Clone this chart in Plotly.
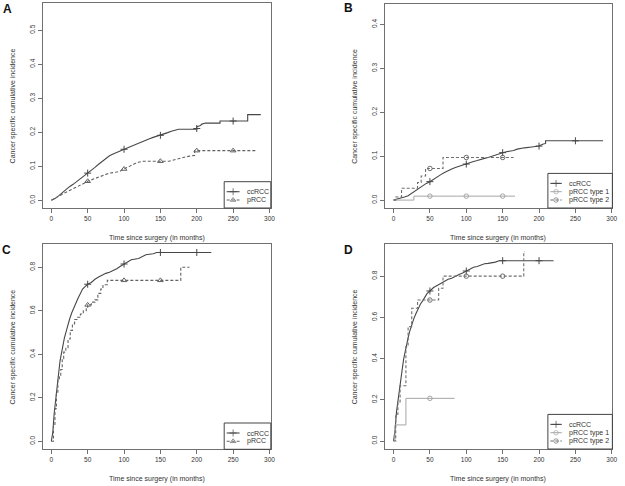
import plotly.graph_objects as go

# ---------------- data ----------------
# Panel A
a_cc_t = [0, 5, 10, 15, 20, 25, 30, 35, 40, 45, 50, 55, 60, 65, 70, 75, 80, 85, 90, 95, 100,
          105, 110, 115, 120, 125, 130, 135, 140, 145, 150, 155, 160, 165, 170, 175, 200, 200,
          205, 207, 212, 232, 232, 270, 270, 288]
a_cc_v = [0, 0.005, 0.013, 0.022, 0.033, 0.040, 0.047, 0.055, 0.063, 0.072, 0.080, 0.088, 0.097,
          0.106, 0.115, 0.124, 0.131, 0.136, 0.141, 0.146, 0.150, 0.154, 0.159, 0.163, 0.168,
          0.173, 0.177, 0.181, 0.185, 0.188, 0.191, 0.195, 0.199, 0.203, 0.207, 0.209, 0.209,
          0.216, 0.220, 0.224, 0.227, 0.227, 0.233, 0.233, 0.252, 0.252]
a_cc_mark_t = [50, 100, 150, 200, 250]
a_cc_mark_v = [0.080, 0.150, 0.191, 0.211, 0.233]

a_p_t = [0, 5, 10, 15, 20, 25, 30, 35, 40, 45, 50, 55, 60, 65, 70, 75, 80, 90, 95, 100, 105,
         110, 115, 120, 127, 162, 170, 180, 190, 197, 197, 283]
a_p_v = [0, 0.005, 0.012, 0.018, 0.023, 0.028, 0.033, 0.038, 0.043, 0.050, 0.056, 0.060, 0.064,
         0.067, 0.071, 0.075, 0.080, 0.083, 0.086, 0.092, 0.098, 0.104, 0.108, 0.112, 0.115,
         0.115, 0.120, 0.125, 0.130, 0.132, 0.146, 0.146]
a_p_mark_t = [50, 100, 150, 200, 250]
a_p_mark_v = [0.056, 0.092, 0.115, 0.146, 0.146]

# Panel B
b_cc_t = [0, 5, 10, 15, 20, 25, 30, 35, 40, 45, 50, 55, 60, 65, 70, 75, 80, 85, 90, 95, 100,
          105, 110, 115, 120, 125, 130, 135, 140, 145, 150, 155, 160, 165, 170, 175, 180, 190,
          200, 205, 209, 209, 288]
b_cc_v = [0, 0.002, 0.004, 0.007, 0.010, 0.016, 0.022, 0.028, 0.033, 0.038, 0.042, 0.048, 0.053,
          0.058, 0.063, 0.068, 0.071, 0.074, 0.077, 0.079, 0.082, 0.085, 0.088, 0.090, 0.093,
          0.095, 0.097, 0.100, 0.103, 0.106, 0.108, 0.110, 0.111, 0.113, 0.116, 0.118, 0.119,
          0.121, 0.123, 0.127, 0.129, 0.135, 0.135]
b_cc_mark_t = [50, 100, 150, 200, 250]
b_cc_mark_v = [0.042, 0.082, 0.108, 0.123, 0.135]

b_p1_t = [0, 28, 167]
b_p1_v = [0, 0.009, 0.009]
b_p1_mark_t = [50, 100, 150]
b_p1_mark_v = [0.009, 0.009, 0.009]

b_p2_t = [0, 3, 11, 33, 38, 44, 68, 165]
b_p2_v = [0, 0.007, 0.027, 0.040, 0.055, 0.072, 0.097, 0.097]
b_p2_mark_t = [50, 100, 150]
b_p2_mark_v = [0.072, 0.097, 0.097]

# Panel C
c_cc_t = [0, 2, 4, 6, 8, 10, 12, 14, 16, 18, 20, 22, 25, 28, 31, 34, 37, 40, 43, 46, 50, 55,
          60, 65, 70, 75, 80, 85, 90, 95, 100, 105, 110, 120, 125, 130, 140, 145, 220]
c_cc_v = [0, 0.04, 0.13, 0.20, 0.25, 0.31, 0.37, 0.41, 0.44, 0.475, 0.50, 0.53, 0.56, 0.59,
          0.615, 0.64, 0.66, 0.68, 0.70, 0.71, 0.722, 0.73, 0.745, 0.755, 0.765, 0.772, 0.777,
          0.785, 0.793, 0.805, 0.815, 0.825, 0.835, 0.84, 0.85, 0.858, 0.862, 0.868, 0.868]
c_cc_mark_t = [50, 100, 150, 200]
c_cc_mark_v = [0.722, 0.815, 0.868, 0.868]

c_p_t = [0, 3, 5, 7, 9, 11, 13, 15, 17, 20, 23, 26, 29, 32, 36, 40, 44, 48, 50, 55, 60, 64,
         68, 71, 77, 178, 190]
c_p_v = [0, 0.07, 0.15, 0.22, 0.28, 0.30, 0.33, 0.38, 0.41, 0.43, 0.47, 0.51, 0.54, 0.56,
         0.57, 0.585, 0.60, 0.615, 0.627, 0.64, 0.65, 0.68, 0.70, 0.72, 0.74, 0.80, 0.80]
c_p_mark_t = [50, 100, 150]
c_p_mark_v = [0.627, 0.74, 0.74]

# Panel D
d_cc_t = [0, 2, 4, 6, 8, 10, 12, 14, 16, 18, 20, 22, 25, 28, 31, 34, 37, 40, 43, 46, 50, 55,
          60, 65, 70, 75, 80, 85, 90, 95, 100, 105, 110, 115, 120, 125, 130, 140, 145, 220]
d_cc_v = [0, 0.05, 0.14, 0.20, 0.25, 0.30, 0.35, 0.40, 0.44, 0.47, 0.50, 0.53, 0.565, 0.595,
          0.62, 0.645, 0.665, 0.68, 0.70, 0.715, 0.728, 0.745, 0.755, 0.765, 0.778, 0.785, 0.79,
          0.80, 0.808, 0.815, 0.825, 0.835, 0.843, 0.847, 0.855, 0.86, 0.862, 0.868, 0.875, 0.875]
d_cc_mark_t = [50, 100, 150, 200]
d_cc_mark_v = [0.728, 0.825, 0.875, 0.875]

d_p1_t = [0, 2, 17, 84]
d_p1_v = [0, 0.078, 0.207, 0.207]
d_p1_mark_t = [50]
d_p1_mark_v = [0.207]

d_p2_t = [0, 3, 6, 9, 17, 20, 25, 33, 62, 68, 179, 180]
d_p2_v = [0, 0.13, 0.19, 0.268, 0.458, 0.555, 0.644, 0.684, 0.741, 0.80, 0.919, 0.919]
d_p2_mark_t = [50, 100, 150]
d_p2_mark_v = [0.684, 0.80, 0.80]

x_ticks = [0, 50, 100, 150, 200, 250, 300]
ticks_a = [0.0, 0.1, 0.2, 0.3, 0.4, 0.5]
ticks_b = [0.0, 0.1, 0.2, 0.3, 0.4]
ticks_cd = [0.0, 0.2, 0.4, 0.6, 0.8]
panel_labels = ["A", "B", "C", "D"]
legend_ab = ["ccRCC", "pRCC"]
legend_types = ["ccRCC", "pRCC type 1", "pRCC type 2"]
x_title = "Time since surgery (in months)"
y_title = "Cancer specific cumulative incidence"

# ---------------- styles ----------------
W, H = 625, 486
FONT = "Liberation Sans"
C_CC = "#474747"
C_P = "#626262"
C_P1 = "#a6a6a6"
C_P2 = "#6e6e6e"
DASH = "3px,2px"
S_CC = dict(color=C_CC, dash="solid", width=1.1, symbol="cross-thin", msize=5)
S_P = dict(color=C_P, dash=DASH, width=1.1, symbol="triangle-up-open", msize=5)
S_P1 = dict(color=C_P1, dash="solid", width=1, symbol="circle-open", msize=4.5)
S_P2 = dict(color=C_P2, dash=DASH, width=1.1, symbol="circle-open", msize=4.5)

fig = go.Figure()


def add_curve(t, v, mt, mv, xa, ya, st, shape):
    fig.add_trace(go.Scatter(x=t, y=v, mode="lines",
                             line=dict(color=st["color"], dash=st["dash"], width=st["width"], shape=shape),
                             xaxis=xa, yaxis=ya, showlegend=False, hoverinfo="skip"))
    mk = dict(symbol=st["symbol"], size=st["msize"], color=st["color"], line=dict(color=st["color"], width=1))
    fig.add_trace(go.Scatter(x=mt, y=mv, mode="markers", marker=mk,
                             xaxis=xa, yaxis=ya, showlegend=False, hoverinfo="skip"))


add_curve(a_cc_t, a_cc_v, a_cc_mark_t, a_cc_mark_v, "x", "y", S_CC, "linear")
add_curve(a_p_t, a_p_v, a_p_mark_t, a_p_mark_v, "x", "y", S_P, "linear")
add_curve(b_cc_t, b_cc_v, b_cc_mark_t, b_cc_mark_v, "x2", "y2", S_CC, "linear")
add_curve(b_p1_t, b_p1_v, b_p1_mark_t, b_p1_mark_v, "x2", "y2", S_P1, "hv")
add_curve(b_p2_t, b_p2_v, b_p2_mark_t, b_p2_mark_v, "x2", "y2", S_P2, "hv")
add_curve(c_cc_t, c_cc_v, c_cc_mark_t, c_cc_mark_v, "x3", "y3", S_CC, "linear")
add_curve(c_p_t, c_p_v, c_p_mark_t, c_p_mark_v, "x3", "y3", S_P, "hv")
add_curve(d_cc_t, d_cc_v, d_cc_mark_t, d_cc_mark_v, "x4", "y4", S_CC, "linear")
add_curve(d_p1_t, d_p1_v, d_p1_mark_t, d_p1_mark_v, "x4", "y4", S_P1, "hv")
add_curve(d_p2_t, d_p2_v, d_p2_mark_t, d_p2_mark_v, "x4", "y4", S_P2, "hv")

# panel boxes in pixels: (left, right, top, bottom)
boxes = {
    "A": (43, 273, 3, 208),
    "B": (387.7, 617.3, 4, 208),
    "C": (43, 273, 244, 449.3),
    "D": (387.7, 617.3, 244, 449),
}
xranges = {"A": [-11.9, 301.8], "B": [-12.3, 300.8], "C": [-11.9, 301.8], "D": [-12.3, 300.8]}
yranges = {"A": [-0.0226, 0.580], "B": [-0.018, 0.4465], "C": [-0.0368, 0.907], "D": [-0.0388, 0.956]}
yticks = {"A": ticks_a, "B": ticks_b, "C": ticks_cd, "D": ticks_cd}
suffix = {"A": "", "B": "2", "C": "3", "D": "4"}
legends = {"A": (legend_ab, [S_CC, S_P]), "C": (legend_ab, [S_CC, S_P]),
           "B": (legend_types, [S_CC, S_P1, S_P2]), "D": (legend_types, [S_CC, S_P1, S_P2])}

axcommon = dict(showline=True, mirror=True, linecolor="#707070", linewidth=1, ticks="outside", ticklen=4,
                tickcolor="#707070", tickwidth=1, showgrid=False, zeroline=False,
                tickfont=dict(family=FONT, size=6.5, color="#333"))

layout = dict(width=W, height=H, margin=dict(l=0, r=0, t=0, b=0), paper_bgcolor="white",
              plot_bgcolor="rgba(0,0,0,0)", font=dict(family=FONT, color="#333"), showlegend=False)
# overlay pixel axes for legend keys
layout["xaxis5"] = dict(domain=[0, 1], range=[0, W], visible=False, anchor="y5", fixedrange=True)
layout["yaxis5"] = dict(domain=[0, 1], range=[H, 0], visible=False, anchor="x5", fixedrange=True)

annotations = []
shapes = []
for p in panel_labels:
    l, r, t, b = boxes[p]
    s = suffix[p]
    layout["xaxis" + s] = dict(domain=[l / W, r / W], range=xranges[p], tickvals=x_ticks,
                               ticktext=[str(v) for v in x_ticks], anchor="y" + s, **axcommon)
    layout["yaxis" + s] = dict(domain=[1 - b / H, 1 - t / H], range=yranges[p], tickvals=yticks[p],
                               ticktext=["%.1f" % v for v in yticks[p]], tickangle=-90,
                               anchor="x" + s, **axcommon)
    # axis titles
    annotations.append(dict(text=x_title, x=(l + r) / 2 / W, y=1 - (b + 29.5) / H,
                            xref="paper", yref="paper", showarrow=False, xanchor="center", yanchor="middle",
                            font=dict(family=FONT, size=7, color="#333")))
    annotations.append(dict(text=y_title, x=(l - 30) / W, y=1 - (t + b) / 2 / H, textangle=-90,
                            xref="paper", yref="paper", showarrow=False, xanchor="center", yanchor="middle",
                            font=dict(family=FONT, size=7, color="#333")))
    # legend (bottom-right, boxed)
    names, styles = legends[p]
    n = len(names)
    lw = 47 if n == 2 else 65
    row = 8.3
    top = b - (n - 1) * row - 18
    shapes.append(dict(type="rect", xref="paper", yref="paper", x0=(r - lw) / W, x1=r / W,
                       y0=1 - b / H, y1=1 - top / H, line=dict(color="#444", width=1),
                       fillcolor="rgba(0,0,0,0)", layer="above"))
    for i, (nm, st) in enumerate(zip(names, styles)):
        yy = top + 10 + i * row
        x0 = r - lw + 2.5
        x1 = x0 + (13 if n == 2 else 11.5)
        fig.add_trace(go.Scatter(x=[x0, (x0 + x1) / 2, x1], y=[yy, yy, yy], mode="lines+markers",
                                 line=dict(color=st["color"], dash=st["dash"], width=st["width"]),
                                 marker=dict(symbol=st["symbol"], size=[0, st["msize"], 0], color=st["color"],
                                             line=dict(color=st["color"], width=1)),
                                 xaxis="x5", yaxis="y5", showlegend=False, hoverinfo="skip"))
        annotations.append(dict(text=nm, x=(x1 + 5) / W, y=1 - yy / H, xref="paper", yref="paper",
                                showarrow=False, xanchor="left", yanchor="middle",
                                font=dict(family=FONT, size=7, color="#333")))

label_pos = {"A": (7.5, 9), "B": (351, 8), "C": (6.7, 249.5), "D": (351.5, 250)}
for p in panel_labels:
    px, py = label_pos[p]
    annotations.append(dict(text="<b>%s</b>" % p, x=px / W, y=1 - py / H, xref="paper", yref="paper",
                            showarrow=False, xanchor="center", yanchor="middle",
                            font=dict(family=FONT, size=12, color="#111")))
layout["annotations"] = annotations
layout["shapes"] = shapes
fig.update_layout(**layout)
fig.write_html("out.html", config={"displayModeBar": False},
               post_script="document.body.style.margin='0px';")
